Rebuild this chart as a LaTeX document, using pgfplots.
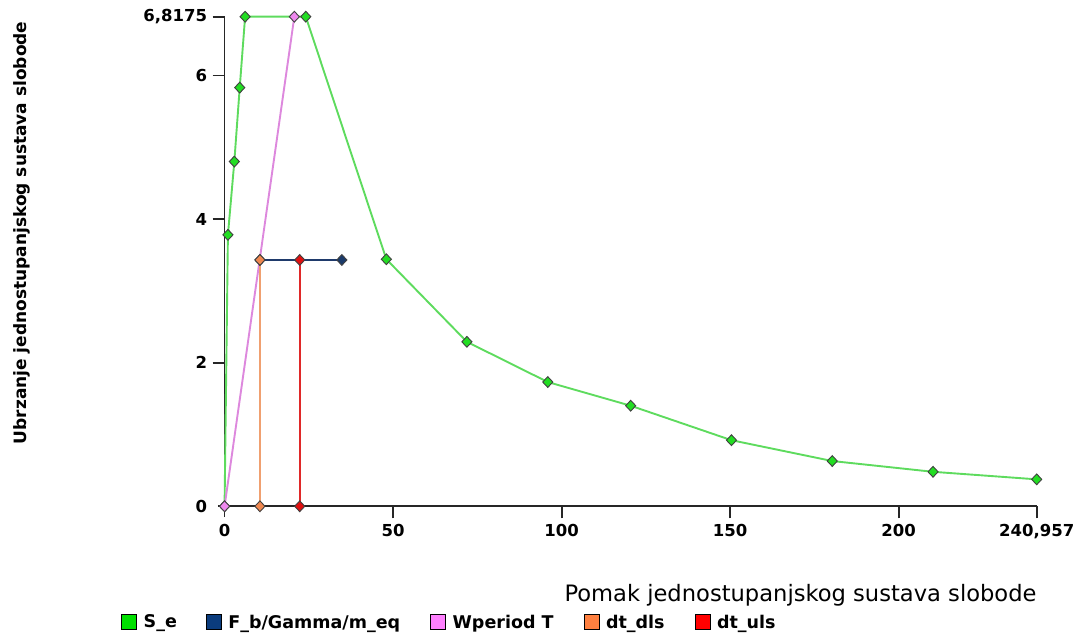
\documentclass[border=0pt]{standalone}
\usepackage{fontspec}
\setmainfont{DejaVu Sans}
\usepackage{pgfplots}
\pgfplotsset{compat=1.18}

\definecolor{seline}{HTML}{5EDB5E}
\definecolor{sefill}{HTML}{22DD22}
\definecolor{selegend}{HTML}{00E000}
\definecolor{fbline}{HTML}{1F3A6B}
\definecolor{fbfill}{HTML}{1A3A6A}
\definecolor{fblegend}{HTML}{0B3C7D}
\definecolor{wpline}{HTML}{DD88DD}
\definecolor{wpfill}{HTML}{EE88EE}
\definecolor{wplegend}{HTML}{FF80FF}
\definecolor{dlline}{HTML}{F0A070}
\definecolor{dlfill}{HTML}{F08850}
\definecolor{dllegend}{HTML}{FF8040}
\definecolor{ulline}{HTML}{E02828}
\definecolor{ulfill}{HTML}{E01010}
\definecolor{ullegend}{HTML}{FF0000}

\pgfplotstableread{
x y
0 0
1.0 3.78
2.9 4.80
4.5 5.83
6.1 6.8175
24.1 6.8175
48.0 3.44
71.9 2.29
95.9 1.73
120.5 1.40
150.4 0.92
180.3 0.63
210.2 0.48
240.957 0.375
}\Se

\pgfplotstableread{
x y
10.5 3.43
34.8 3.43
}\Fb

\pgfplotstableread{
x y
0 0
20.7 6.8175
}\Wp

\pgfplotstableread{
x y
10.5 0
10.5 3.43
}\Dl

\pgfplotstableread{
x y
22.3 0
22.3 3.43
}\Ul

\begin{document}
\begin{tikzpicture}
\begin{axis}[
  name=ax,
  scale only axis, width=818.8pt, height=500.3pt,
  xmin=-2, xmax=240.957, ymin=-0.15, ymax=6.8175,
  axis x line=middle, axis y line=middle,
  axis line style={-, line width=1.8pt, black!85},
  xtick={0,50,100,150,200,240.957},
  xticklabels={0,50,100,150,200,{240,957}},
  ytick={0,2,4,6,6.8175},
  yticklabels={0,2,4,6,{6,8175}},
  tick align=outside, major tick length=12pt,
  tick style={line width=1.8pt, black!85},
  xticklabel style={font=\fontsize{16.5}{18}\selectfont\bfseries, yshift=-2pt},
  yticklabel style={font=\fontsize{16.5}{18}\selectfont\bfseries, xshift=-2pt},
  xlabel={Pomak jednostupanjskog sustava slobode},
  xlabel style={font=\fontsize{22.6}{24}\selectfont, at={(axis description cs:1,-0.156)}, anchor=east, inner sep=0pt},
  ylabel={Ubrzanje jednostupanjskog sustava slobode},
  ylabel style={font=\fontsize{17}{19}\selectfont\bfseries, at={(axis description cs:-0.239,0.568)}, anchor=center, rotate=90, inner sep=0pt},
  clip=false,
  legend columns=5,
  legend style={draw=none, fill=none, inner sep=0pt,
    at={(axis description cs:-0.1182,-0.21)}, anchor=west,
    font=\fontsize{17.5}{19}\selectfont\bfseries,
    /tikz/column 2/.style={column sep=27pt},
    /tikz/column 4/.style={column sep=28pt},
    /tikz/column 6/.style={column sep=28pt},
    /tikz/column 8/.style={column sep=28pt}},
  every axis plot/.append style={line width=1.9pt, mark=diamond*, mark size=5.4pt},
]
\addplot[color=seline, mark options={fill=sefill, draw=black!75, line width=0.9pt, xscale=1.25}, 
  legend image code/.code={\draw[fill=selegend, draw=black, line width=1pt] (0pt,-7.5pt) rectangle (15pt,7.5pt); \path (19pt,0pt);}]
  table[x=x,y=y]{\Se};
\addlegendentry{S\_e}
\addplot[color=fbline, mark options={fill=fbfill, draw=black!75, line width=0.9pt, xscale=1.25},
  legend image code/.code={\draw[fill=fblegend, draw=black, line width=1pt] (0pt,-7.5pt) rectangle (15pt,7.5pt); \path (19pt,0pt);}]
  table[x=x,y=y]{\Fb};
\addlegendentry{F\_b/Gamma/m\_eq}
\addplot[color=wpline, mark options={fill=wpfill, draw=black!75, line width=0.9pt, xscale=1.25},
  legend image code/.code={\draw[fill=wplegend, draw=black, line width=1pt] (0pt,-7.5pt) rectangle (15pt,7.5pt); \path (19pt,0pt);}]
  table[x=x,y=y]{\Wp};
\addlegendentry{Wperiod T}
\addplot[color=dlline, mark options={fill=dlfill, draw=black!75, line width=0.9pt, xscale=1.25},
  legend image code/.code={\draw[fill=dllegend, draw=black, line width=1pt] (0pt,-7.5pt) rectangle (15pt,7.5pt); \path (19pt,0pt);}]
  table[x=x,y=y]{\Dl};
\addlegendentry{dt\_dls}
\addplot[color=ulline, mark options={fill=ulfill, draw=black!75, line width=0.9pt, xscale=1.25},
  legend image code/.code={\draw[fill=ullegend, draw=black, line width=1pt] (0pt,-7.5pt) rectangle (15pt,7.5pt); \path (19pt,0pt);}]
  table[x=x,y=y]{\Ul};
\addlegendentry{dt\_uls}
\node[font=\fontsize{16.5}{18}\selectfont\bfseries, anchor=north] at ([yshift=-14pt]axis cs:0,0) {0};
\node[font=\fontsize{16.5}{18}\selectfont\bfseries, anchor=east] at ([xshift=-14pt]axis cs:0,0) {0};
\end{axis}
\pgfresetboundingbox
\path[use as bounding box] ([xshift=-217.8pt,yshift=-120pt]ax.south west) rectangle ([xshift=46.3pt,yshift=16.7pt]ax.north east);
\end{tikzpicture}
\end{document}
